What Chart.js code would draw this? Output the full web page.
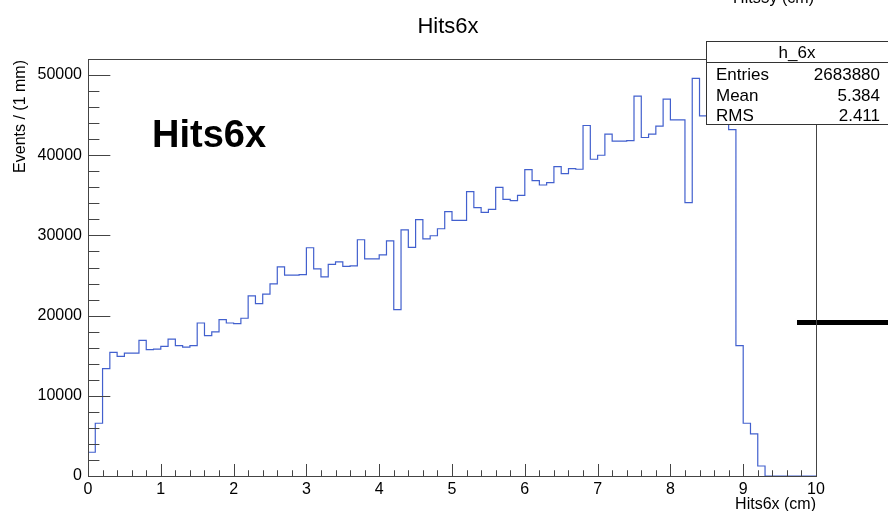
<!DOCTYPE html>
<html>
<head>
<meta charset="utf-8">
<title>Hits6x</title>
<script src="https://cdn.jsdelivr.net/npm/chart.js@4.4.1/dist/chart.umd.min.js"></script>
<style>
  html, body { margin: 0; padding: 0; background: #ffffff; overflow: hidden; }
  canvas { display: block; }
</style>
</head>
<body>
<canvas id="hist" width="888" height="511"></canvas>
<script>
// Histogram h_6x: 100 bins of 1 mm from 0 to 10 cm
const binLow = 0;
const binWidth = 0.1;
const counts = [
   2960,  6580, 13380, 15420, 14920, 15330, 15330, 16920, 15750, 15830,
  16170, 17080, 16250, 16080, 16250, 19080, 17500, 17960, 19500, 19080,
  19000, 19670, 22460, 21500, 22670, 23960, 26080, 25040, 25040, 25120,
  28460, 25830, 24830, 26380, 26710, 26130, 26210, 29460, 27080, 27080,
  27580, 29310, 20750, 30690, 28520, 31960, 29560, 29960, 30830, 32960,
  31880, 31880, 35460, 33460, 32880, 33250, 36000, 34500, 34330, 35000,
  38210, 36830, 36290, 36580, 38580, 37710, 38330, 38250, 43710, 39500,
  40000, 42630, 41750, 41750, 41830, 47380, 42210, 42630, 43630, 47000,
  44420, 44420, 34080, 49580, 44900, 47000, 48000, 46500, 43200, 16250,
   6580,  5250,  1250,     0,     0,     0,     0,     0,     0,     0
];
const xTickValues = [0, 1, 2, 3, 4, 5, 6, 7, 8, 9, 10];
const yTickValues = [0, 10000, 20000, 30000, 40000, 50000];
const statsTitle = 'h_6x';
const statsLabels = ['Entries', 'Mean', 'RMS'];
const statsValues = ['2683880', '5.384', '2.411'];

const FONT = "'Liberation Sans', Arial, Helvetica, sans-serif";
Chart.defaults.font.family = FONT;
Chart.defaults.color = '#000000';

// Step outline: one point at each bin's low edge, plus the upper edge of the last bin
const points = counts.map((c, i) => ({ x: binLow + i * binWidth, y: c }));
points.push({ x: binLow + counts.length * binWidth, y: counts[counts.length - 1] });

const rootStyle = {
  id: 'rootStyle',
  afterDraw(chart) {
    const ctx = chart.ctx;
    const a = chart.chartArea;
    const xs = chart.scales.x;
    const ys = chart.scales.y;
    ctx.save();

    // stray segment from the neighbouring pad
    ctx.strokeStyle = '#000000';
    ctx.lineWidth = 5;
    ctx.beginPath();
    ctx.moveTo(797, 322.5);
    ctx.lineTo(888, 322.5);
    ctx.stroke();

    // frame
    ctx.strokeStyle = '#444444';
    ctx.lineWidth = 1;
    const L = Math.round(a.left) + 0.5, R = Math.round(a.right) + 0.5;
    const T = Math.round(a.top) + 0.5, B = Math.round(a.bottom) + 0.5;
    ctx.strokeRect(L, T, R - L, B - T);

    // ticks drawn inward, ROOT style
    const yMajorLen = 0.03 * (a.right - a.left);
    const xMajorLen = 0.03 * (a.bottom - a.top);
    ctx.beginPath();
    for (let v = ys.min; v < ys.max; v += 2000) {
      const py = Math.round(ys.getPixelForValue(v)) + 0.5;
      const len = (v % 10000 === 0) ? yMajorLen : yMajorLen / 2;
      ctx.moveTo(L, py);
      ctx.lineTo(L + len, py);
    }
    for (let k = 0; k <= 50; k++) {
      const v = k * 0.2;
      const px = Math.round(xs.getPixelForValue(v)) + 0.5;
      const len = (k % 5 === 0) ? xMajorLen : xMajorLen / 2;
      ctx.moveTo(px, B);
      ctx.lineTo(px, B - len);
    }
    ctx.stroke();

    // statistics box
    const bx = 706.5, by = 41.5, bw = 200, bh = 83;
    ctx.fillStyle = '#ffffff';
    ctx.fillRect(bx, by, bw, bh);
    ctx.strokeStyle = '#333333';
    ctx.strokeRect(bx, by, bw, bh);
    ctx.beginPath();
    ctx.moveTo(bx, 62.5);
    ctx.lineTo(888, 62.5);
    ctx.stroke();

    ctx.fillStyle = '#000000';
    ctx.font = '17px ' + FONT;
    ctx.textBaseline = 'alphabetic';
    ctx.textAlign = 'center';
    ctx.fillText(statsTitle, 797, 58);
    const rowY = [80, 100.5, 121];
    statsLabels.forEach((lab, i) => {
      ctx.textAlign = 'left';
      ctx.fillText(lab, 716, rowY[i]);
      ctx.textAlign = 'right';
      ctx.fillText(statsValues[i], 880, rowY[i]);
    });

    // pad title
    ctx.font = '22px ' + FONT;
    ctx.textAlign = 'center';
    ctx.fillText('Hits6x', 448, 33);

    // large label inside the frame
    ctx.font = 'bold 38px ' + FONT;
    ctx.textAlign = 'left';
    ctx.fillText('Hits6x', 152, 147);

    // axis titles
    ctx.font = '16px ' + FONT;
    ctx.textAlign = 'right';
    ctx.fillText('Hits6x (cm)', 816, 509);
    ctx.fillText('Hits5y (cm)', 814, 2.5);

    ctx.translate(25, 60);
    ctx.rotate(-Math.PI / 2);
    ctx.textAlign = 'right';
    ctx.fillText('Events / (1 mm)', 0, 0);

    ctx.restore();
  }
};

new Chart(document.getElementById('hist'), {
  type: 'line',
  data: {
    datasets: [{
      data: points,
      stepped: 'before',
      borderColor: 'rgb(66, 96, 206)',
      borderWidth: 1.2,
      pointRadius: 0,
      fill: false,
      tension: 0
    }]
  },
  options: {
    responsive: false,
    animation: false,
    devicePixelRatio: 1,
    layout: { padding: { top: 59, right: 72, left: 0, bottom: 0 } },
    plugins: {
      legend: { display: false },
      title: { display: false },
      tooltip: { enabled: false }
    },
    scales: {
      x: {
        type: 'linear',
        min: 0,
        max: 10,
        grid: { display: false, drawTicks: false },
        border: { display: false },
        afterFit(scale) { scale.height = 35; },
        afterBuildTicks(scale) { scale.ticks = xTickValues.map(v => ({ value: v })); },
        ticks: {
          autoSkip: false,
          maxRotation: 0,
          padding: 4,
          font: { size: 16 },
          color: '#000000',
          callback: v => String(v)
        }
      },
      y: {
        type: 'linear',
        min: 0,
        max: 52000,
        grid: { display: false, drawTicks: false },
        border: { display: false },
        afterFit(scale) { scale.width = 88; },
        afterBuildTicks(scale) { scale.ticks = yTickValues.map(v => ({ value: v })); },
        ticks: {
          autoSkip: false,
          padding: 6,
          font: { size: 16 },
          color: '#000000',
          callback: v => String(v)
        }
      }
    }
  },
  plugins: [rootStyle]
});
</script>
</body>
</html>
